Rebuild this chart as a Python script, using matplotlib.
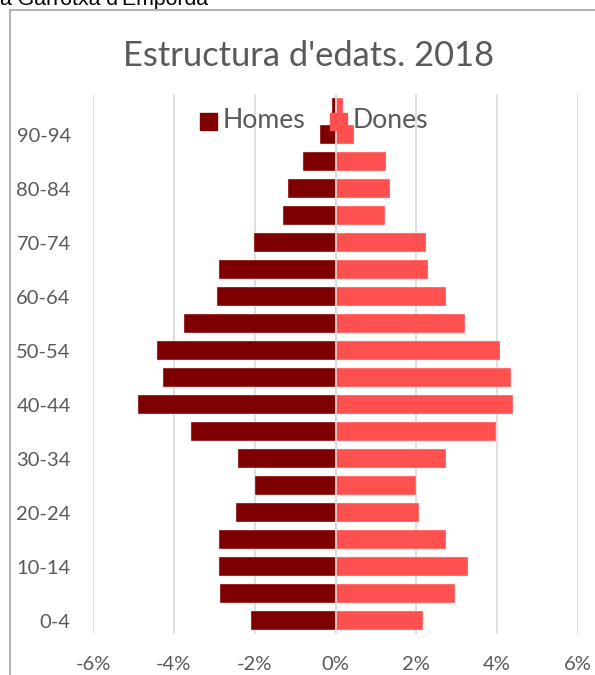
import matplotlib
matplotlib.use("Agg")
import matplotlib.pyplot as plt
from matplotlib.lines import Line2D
from matplotlib.patches import Rectangle
from matplotlib.ticker import FuncFormatter

# grups d'edat (de baix a dalt)
grups = ["0-4", "5-9", "10-14", "15-19", "20-24", "25-29", "30-34", "35-39",
         "40-44", "45-49", "50-54", "55-59", "60-64", "65-69", "70-74",
         "75-79", "80-84", "85-89", "90-94", "95+"]
# percentatges sobre el total (homes en negatiu)
homes = [-2.10, -2.87, -2.89, -2.89, -2.46, -2.00, -2.42, -3.58, -4.89, -4.26,
         -4.42, -3.76, -2.92, -2.88, -2.02, -1.30, -1.18, -0.80, -0.38, -0.08]
dones = [2.16, 2.96, 3.29, 2.74, 2.06, 1.99, 2.74, 3.96, 4.38, 4.34,
         4.07, 3.21, 2.73, 2.30, 2.24, 1.23, 1.35, 1.24, 0.46, 0.19]
xticks = [-6, -4, -2, 0, 2, 4, 6]

W, H = 595, 675
col_h = "#7f0000"
col_d = "#ff5050"
gris = "#595959"
font = "Lato"

fig = plt.figure(figsize=(W / 100, H / 100), dpi=100)
ax = fig.add_axes([93 / W, (H - 634) / H, (578 - 93) / W, (634 - 94) / H])

pos = list(range(len(grups)))
ax.barh(pos, homes, height=0.72, color=col_h, edgecolor="#f4dede", linewidth=0.3, zorder=2)
ax.barh(pos, dones, height=0.72, color=col_d, edgecolor="#ffdede", linewidth=0.3, zorder=2)
ax.axvline(0, color="#d9d9d9", lw=1.2, zorder=3)

ax.set_xlim(-6, 6)
ax.set_ylim(-0.5, len(grups) - 0.5)
ax.set_xticks(xticks)
ax.xaxis.set_major_formatter(FuncFormatter(lambda v, p: f"{int(round(v))}%"))
ax.set_yticks(pos[::2])
ax.set_yticklabels(grups[::2])
ax.grid(axis="x", color="#d9d9d9", lw=1.2, zorder=0)
ax.set_axisbelow(True)
for s in ax.spines.values():
    s.set_visible(False)
ax.tick_params(axis="both", length=0, labelcolor=gris, labelsize=14.5)
ax.tick_params(axis="x", pad=16)
ax.tick_params(axis="y", pad=16)
for lb in ax.get_xticklabels() + ax.get_yticklabels():
    lb.set_fontfamily(font)

# títol
fig.text(309 / W, 1 - 56 / H, "Estructura d'edats. 2018", ha="center", va="center",
         fontsize=24.8, color=gris, family=font)

# llegenda
for x0, txt, c in [(200, "Homes", col_h), (330, "Dones", col_d)]:
    fig.patches.append(Rectangle((x0 / W, 1 - 129.5 / H), 16.5 / W, 16.5 / H,
                                 transform=fig.transFigure, color=c, zorder=5))
    fig.text((x0 + 23) / W, 1 - 121 / H, txt, ha="left", va="center",
             fontsize=19.2, color=gris, family=font, zorder=6)

# marc del gràfic
fig.add_artist(Line2D([10 / W, 10 / W], [0, 1 - 10 / H], transform=fig.transFigure,
                      color="#a6a6a6", lw=1.2))
fig.add_artist(Line2D([10 / W, 1], [1 - 10 / H, 1 - 10 / H], transform=fig.transFigure,
                      color="#a6a6a6", lw=1.2))

fig.text(0, 1 - 5 / H, "a Garrotxa d'Empordà", ha="left", va="baseline",
         fontsize=15.3, color="black", family="Liberation Sans")

fig.savefig("out.png", dpi=100)
